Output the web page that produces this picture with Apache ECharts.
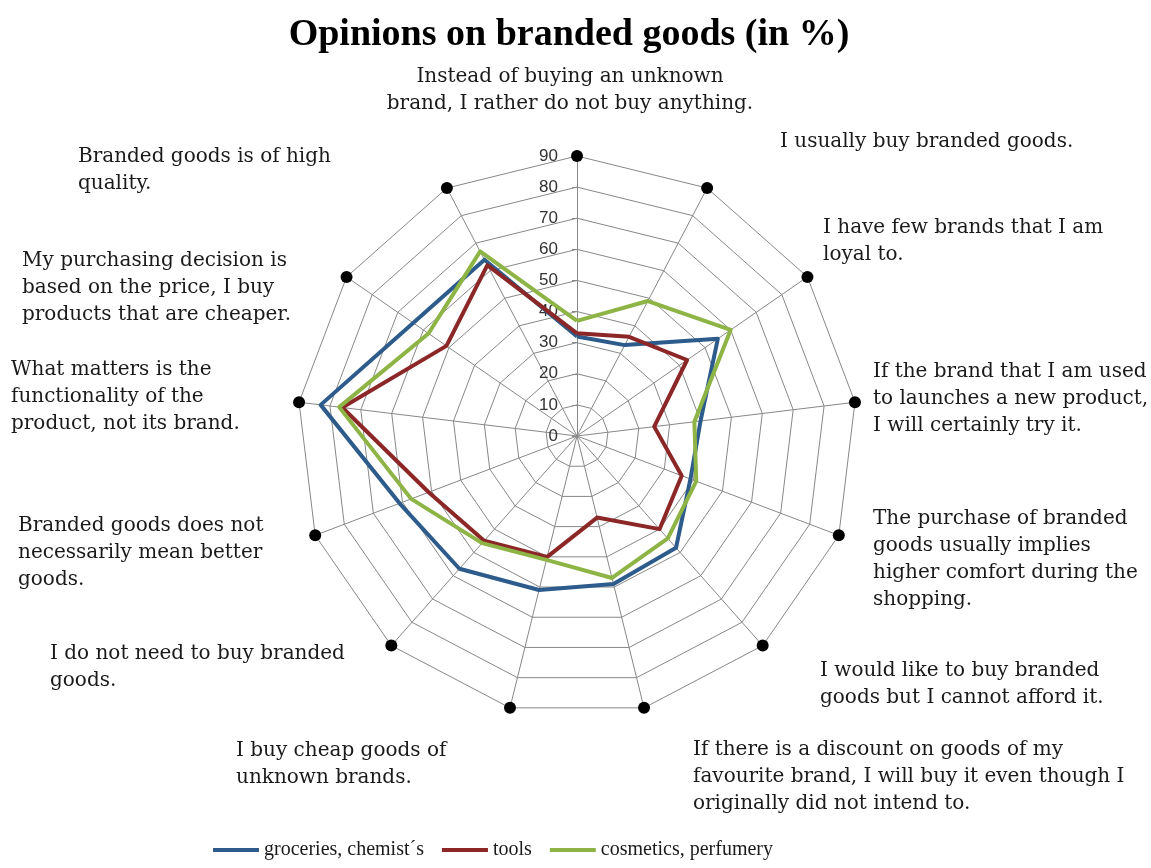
<!DOCTYPE html>
<html>
<head>
<meta charset="utf-8">
<script src="https://cdn.jsdelivr.net/npm/echarts@6/dist/echarts.min.js"></script>
<style>
html,body{margin:0;padding:0;background:#ffffff;}
#chart{width:1151px;height:868px;}
</style>
</head>
<body>
<div id="chart"></div>
<script>
// ---------------- data ----------------
const chartTitle = 'Opinions on branded goods (in %)';

// categories in clockwise order starting at the top
const categories = [
  'Instead of buying an unknown\nbrand, I rather do not buy anything.',
  'I usually buy branded goods.',
  'I have few brands that I am\nloyal to.',
  'If the brand that I am used\nto launches a new product,\nI will certainly try it.',
  'The purchase of branded\ngoods usually implies\nhigher comfort during the\nshopping.',
  'I would like to buy branded\ngoods but I cannot afford it.',
  'If there is a discount on goods of my\nfavourite brand, I will buy it even though I\noriginally did not intend to.',
  'I buy cheap goods of\nunknown brands.',
  'I do not need to buy branded\ngoods.',
  'Branded goods does not\nnecessarily mean better\ngoods.',
  'What matters is the\nfunctionality of the\nproduct, not its brand.',
  'My purchasing decision is\nbased on the price, I buy\nproducts that are cheaper.',
  'Branded goods is of high\nquality.'
];

const seriesNames = ['groceries, chemist\u00b4s', 'tools', 'cosmetics, perfumery'];
const groceries = [32, 33, 55, 40, 39, 48, 49, 51, 57, 61, 83, 64, 64];
const tools     = [33, 36, 43, 25, 36, 40, 27, 40, 45, 51, 76, 51, 62];
const cosmetics = [37, 49, 60, 38, 41, 44, 47, 41, 46, 57, 77, 58, 67];
const outerMarkers = [90, 90, 90, 90, 90, 90, 90, 90, 90, 90, 90, 90, 90];

const axisMin = 0;
const axisMax = 90;
const axisSplits = 9;
const tickLabels = ['0', '10', '20', '30', '40', '50', '60', '70', '80', '90'];

// ---------------- layout (not data) ----------------
const labelLayout = [
  {x: 570, y: 63, align: 'center'},
  {x: 780, y: 128, align: 'left'},
  {x: 823, y: 214, align: 'left'},
  {x: 873, y: 358, align: 'left'},
  {x: 873, y: 505, align: 'left'},
  {x: 820, y: 657, align: 'left'},
  {x: 693, y: 736, align: 'left'},
  {x: 236, y: 737, align: 'left'},
  {x: 50,  y: 640, align: 'left'},
  {x: 18,  y: 512, align: 'left'},
  {x: 11,  y: 356, align: 'left'},
  {x: 22,  y: 247, align: 'left'},
  {x: 78,  y: 143, align: 'left'}
];
const colors = ['#2C5B8C', '#8C2727', '#8DB445'];
const gridColor = '#888888';

// ECharts lays indicators counter-clockwise; reorder to get the clockwise reference layout
const order = [0];
for (let i = categories.length - 1; i >= 1; i--) order.push(i);
const reorder = arr => order.map(i => arr[i]);

const indicators = order.map((ci, k) => {
  const ind = {name: categories[ci], min: axisMin, max: axisMax};
  if (k === 0) {
    ind.axisLabel = {
      show: true,
      margin: 19,
      color: '#333333',
      fontFamily: 'Liberation Sans',
      fontSize: 17,
      formatter: v => tickLabels[Math.round((v - axisMin) / ((axisMax - axisMin) / axisSplits))]
    };
    ind.axisTick = {show: true, length: 5, lineStyle: {color: gridColor, width: 1}};
  }
  return ind;
});

const chart = echarts.init(document.getElementById('chart'), null, {renderer: 'canvas'});

const graphicTexts = [{
  type: 'text',
  x: 569, y: 35,
  style: {
    text: chartTitle,
    font: 'bold 38px "Liberation Serif"',
    fill: '#000000',
    align: 'center',
    verticalAlign: 'middle'
  }
}];
categories.forEach((txt, i) => {
  const L = labelLayout[i];
  graphicTexts.push({
    type: 'text',
    x: L.x, y: L.y,
    style: {
      text: txt,
      font: '20px "DejaVu Serif"',
      fill: '#1a1a1a',
      lineHeight: 27,
      align: L.align,
      verticalAlign: 'top'
    }
  });
});

const lineSeries = [groceries, tools, cosmetics].map((vals, i) => ({
  name: seriesNames[i],
  value: reorder(vals),
  symbol: 'none',
  lineStyle: {color: colors[i], width: 4},
  itemStyle: {color: colors[i]}
}));

const option = {
  backgroundColor: '#ffffff',
  animation: false,
  color: colors,
  legend: {
    data: seriesNames,
    left: 208,
    top: 835,
    icon: 'rect',
    itemWidth: 46,
    itemHeight: 4,
    itemGap: 18,
    textStyle: {fontFamily: 'Liberation Serif', fontSize: 20, color: '#1a1a1a'}
  },
  radar: {
    center: [577, 436],
    radius: 280,
    startAngle: 90,
    shape: 'polygon',
    splitNumber: axisSplits,
    indicator: indicators,
    axisName: {show: false},
    axisLine: {lineStyle: {color: gridColor, width: 1}},
    splitLine: {lineStyle: {color: gridColor, width: 1}},
    splitArea: {show: false},
    axisTick: {show: false},
    axisLabel: {show: false}
  },
  graphic: graphicTexts,
  series: [
    {
      type: 'radar',
      z: 2,
      data: lineSeries
    },
    {
      type: 'radar',
      name: 'markers',
      silent: true,
      z: 3,
      data: [{
        name: 'markers',
        value: reorder(outerMarkers),
        symbol: 'circle',
        symbolSize: 12,
        lineStyle: {width: 0, opacity: 0},
        itemStyle: {color: '#000000'}
      }]
    }
  ]
};
chart.setOption(option);
</script>
</body>
</html>
